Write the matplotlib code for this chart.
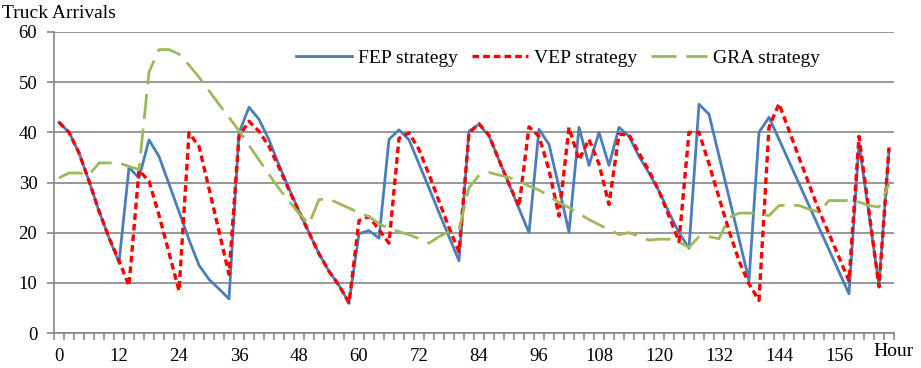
import numpy as np
import matplotlib.pyplot as plt

# Hourly truck arrivals per strategy, one value every 2 hours
hours = np.arange(0, 168, 2)

fep = [42, 40, 35.9, 30.3, 24.3, 19, 14, 33, 30.9, 38.5,
       35.2, 29.7, 24.2, 18.6, 13.5, 10.7, 8.8, 6.8, 39.9, 45,
       42.6, 38.5, 33.5, 28.8, 24.3, 20, 15.8, 12.3, 9.5, 6,
       19.8, 20.4, 18.9, 38.6, 40.5, 38.5, 33.7, 28.9, 24, 19.2,
       14.4, 40.2, 41.6, 39.3, 34.5, 29.7, 24.8, 20, 40.6, 37.6,
       29, 20.1, 41, 33.4, 40, 33.4, 41, 39.2, 35.2, 31.9,
       28.3, 24, 20, 16.9, 45.6, 43.6, 35.3, 27.1, 18.8, 10.5,
       40, 43, 38.6, 34.2, 29.8, 25.4, 21, 16.6, 12.2, 7.8,
       37.8, 23.6, 9.5, 36.4]

vep = [42, 40, 35.9, 30.3, 24.3, 19, 14.4, 9.4, 32.4, 30.3,
       23.5, 16, 8.4, 39.9, 37.2, 28.8, 20.3, 11.7, 39.2, 42.2,
       40.2, 37.2, 33, 28.5, 24.2, 20, 15.8, 12.3, 9.5, 6,
       22.4, 23.2, 20.6, 17.9, 38.8, 39.9, 36.6, 31.6, 26.3, 21,
       16.2, 39.9, 41.7, 39.4, 34.4, 29.7, 25.2, 41.1, 39.2, 32.5,
       23.3, 41, 34.5, 38.6, 33.7, 25.6, 39.6, 39.5, 35.9, 32.3,
       28.3, 23.3, 18.2, 40, 40, 33.7, 27, 20.4, 14.4, 9.8,
       6.5, 41, 45.7, 40.4, 35, 29.7, 24.4, 19.8, 15.1, 10.4,
       39.2, 24.2, 9.2, 37]

gra = [30.9, 31.9, 31.9, 31.5, 33.9, 33.9, 33.9, 33.2, 32.6, 52,
       56.5, 56.5, 55.6, 53.4, 51, 48.3, 45.6, 43, 40.3, 37.4,
       34.5, 31.6, 28.8, 26.3, 23.8, 21.7, 26.6, 26.7, 25.8, 24.9,
       24, 23.2, 21.8, 20.8, 20.2, 19.6, 18.8, 17.9, 19.2, 20.2,
       20.6, 29, 31.4, 32, 31.5, 31, 30.3, 29.3, 28.5, 27.3,
       26, 25, 23.8, 22.6, 21.6, 20.6, 19.6, 20, 19.3, 18.5,
       18.7, 18.7, 18.1, 17.1, 19.2, 19.2, 18.8, 23, 23.9, 23.9,
       23.8, 23.4, 25.4, 25.5, 25.4, 24.7, 24.1, 26.4, 26.4, 26.4,
       26.1, 25.4, 25.1, 29.7]

plt.rcParams['font.family'] = 'Liberation Serif'
grid_color = '#868686'

fig = plt.figure(figsize=(9.21, 3.68), dpi=100)
ax = fig.add_axes([54 / 921, 35 / 368, 840 / 921, 301 / 368])

ax.plot(hours, fep, color='#4A7EBB', lw=2, label='FEP strategy')
ax.plot(hours, vep, color='#FF0000', lw=2.4, dashes=(2, 1.2), label='VEP strategy')
ax.plot(hours, gra, color='#9BBB59', lw=2, dashes=(9, 3.5), label='GRA strategy')

ax.set_xlim(-1, 167)
ax.set_ylim(0, 60)
ax.set_yticks(range(0, 61, 10))
ax.yaxis.grid(True, color=grid_color, lw=1.2)
ax.set_axisbelow(True)

for side in ['top', 'right']:
    ax.spines[side].set_visible(False)
for side in ['left', 'bottom']:
    ax.spines[side].set_color(grid_color)
    ax.spines[side].set_linewidth(1.2)

# labels sit in the middle of each category, ticks sit between categories
ax.set_xticks(range(0, 157, 12))
ax.set_xticks(np.arange(-1, 168, 2), minor=True)
ax.tick_params(axis='x', which='major', length=0, pad=11, labelsize=13.5)
ax.tick_params(axis='x', which='minor', length=5, color=grid_color, width=1.2)
ax.tick_params(axis='y', length=5, color=grid_color, width=1.2, pad=7, labelsize=13.5)

ax.legend(loc='center', bbox_to_anchor=(0.6, 0.914), ncol=3, frameon=False,
          fontsize=14, handlelength=2.9, handletextpad=0.3, columnspacing=0.7)

fig.text(2 / 921, 1 - 13 / 368, 'Truck Arrivals', fontsize=14, ha='left', va='center')
fig.text(873 / 921, 1 - 351 / 368, 'Hour', fontsize=14, ha='left', va='center')

fig.savefig('out.png', dpi=100)
